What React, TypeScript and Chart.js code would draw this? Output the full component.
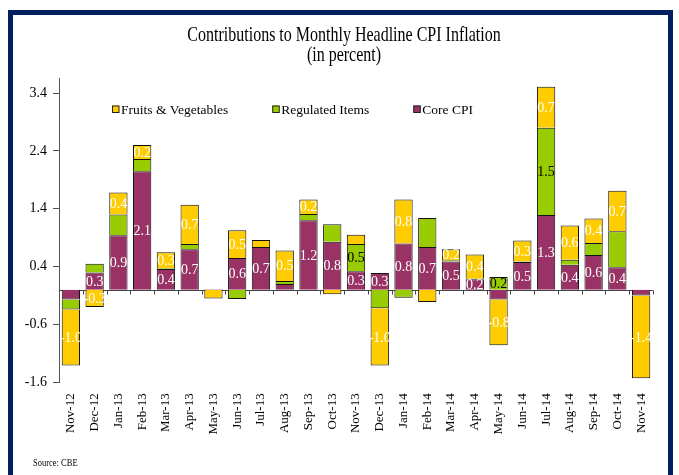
import React, { useEffect, useRef } from 'react';
import { Chart, registerables } from 'chart.js';

Chart.register(...registerables);

// ---------- data ----------
const categories = [
  'Nov-12', 'Dec-12', 'Jan-13', 'Feb-13', 'Mar-13', 'Apr-13', 'May-13', 'Jun-13', 'Jul-13',
  'Aug-13', 'Sep-13', 'Oct-13', 'Nov-13', 'Dec-13', 'Jan-14', 'Feb-14', 'Mar-14', 'Apr-14',
  'May-14', 'Jun-14', 'Jul-14', 'Aug-14', 'Sep-14', 'Oct-14', 'Nov-14',
];

const coreCPI = [
  -0.17, 0.30, 0.94, 2.05, 0.36, 0.70, 0.01, 0.55, 0.74,
  0.10, 1.20, 0.83, 0.32, 0.29, 0.80, 0.74, 0.49, 0.18,
  -0.17, 0.48, 1.29, 0.43, 0.60, 0.39, -0.10,
];

const regulatedItems = [
  -0.17, 0.15, 0.36, 0.21, 0.01, 0.09, 0.0, -0.16, 0.0,
  0.05, 0.11, 0.30, 0.47, -0.32, -0.14, 0.50, 0.02, 0.01,
  0.22, 0.01, 1.51, 0.09, 0.21, 0.62, 0.0,
];

const fruitsVegetables = [
  -0.97, -0.30, 0.38, 0.24, 0.28, 0.68, -0.15, 0.48, 0.12,
  0.53, 0.25, -0.08, 0.16, -0.99, 0.76, -0.21, 0.19, 0.42,
  -0.79, 0.36, 0.71, 0.59, 0.42, 0.70, -1.43,
];

// value labels shown on the bars (empty = no label)
const coreLabels = [
  '', '0.3', '0.9', '2.1', '0.4', '0.7', '', '0.6', '0.7',
  '', '1.2', '0.8', '0.3', '0.3', '0.8', '0.7', '0.5', '0.2',
  '', '0.5', '1.3', '0.4', '0.6', '0.4', '',
];
const regulatedLabels = [
  '', '', '', '', '', '', '', '', '',
  '', '', '', '0.5', '', '', '', '', '',
  '0.2', '', '1.5', '', '', '', '',
];
const fruitsLabels = [
  '-1.0', '-0.3', '0.4', '0.2', '0.3', '0.7', '', '0.5', '',
  '0.5', '0.2', '', '', '-1.0', '0.8', '', '0.2', '0.4',
  '-0.8', '0.3', '0.7', '0.6', '0.4', '0.7', '-1.4',
];

const yTickValues = [-1.6, -0.6, 0.4, 1.4, 2.4, 3.4];
const titleLines = ['Contributions to Monthly Headline CPI Inflation', '(in percent)'];
const sourceNote = 'Source: CBE';
const seriesNames = { fruits: 'Fruits & Vegetables', regulated: 'Regulated Items', core: 'Core CPI' };

// ---------- styles ----------
const FONT = "'Liberation Serif', 'Times New Roman', serif";
const COLORS = { core: '#993366', regulated: '#99CC00', fruits: '#FFCC00' };

const decorPlugin = {
  id: 'decor',
  beforeDatasetsDraw(chart: any) {
    const { ctx, chartArea, scales } = chart;
    const xs = scales.x;
    const y0 = Math.round(scales.y.getPixelForValue(0)) + 0.5;
    const step = xs.getPixelForValue(1) - xs.getPixelForValue(0);
    const first = xs.getPixelForValue(0) - step / 2;
    ctx.save();
    ctx.strokeStyle = '#444';
    ctx.lineWidth = 1;
    ctx.beginPath();
    ctx.moveTo(chartArea.left, y0);
    ctx.lineTo(chartArea.right, y0);
    for (let i = 1; i <= categories.length; i++) {
      const bx = Math.round(first + i * step) + 0.5;
      ctx.moveTo(bx, y0);
      ctx.lineTo(bx, y0 + 4);
    }
    ctx.stroke();
    ctx.restore();
  },
  afterDatasetsDraw(chart: any) {
    const { ctx } = chart;
    const labelSets = [coreLabels, regulatedLabels, fruitsLabels];
    const colors = ['#ffffff', '#000000', '#ffffff'];
    ctx.save();
    ctx.font = `14px ${FONT}`;
    ctx.textAlign = 'center';
    ctx.textBaseline = 'middle';
    chart.data.datasets.forEach((_ds: any, di: number) => {
      const meta = chart.getDatasetMeta(di);
      ctx.fillStyle = colors[di];
      meta.data.forEach((el: any, i: number) => {
        const t = labelSets[di][i];
        if (!t) return;
        const { x, y, base } = el.getProps(['x', 'y', 'base'], true);
        ctx.fillText(t, x, (y + base) / 2 + 1);
      });
    });
    ctx.restore();
  },
  afterDraw(chart: any) {
    const { ctx, chartArea } = chart;
    ctx.save();
    // title (slightly tall glyphs like the reference)
    ctx.fillStyle = '#000';
    ctx.font = `16px ${FONT}`;
    ctx.textAlign = 'center';
    ctx.textBaseline = 'alphabetic';
    const cx = 344;
    const baselines = [41, 61];
    titleLines.forEach((line, i) => {
      ctx.save();
      ctx.translate(cx, baselines[i]);
      ctx.scale(1, 1.29);
      ctx.fillText(line, 0, 0);
      ctx.restore();
    });

    // legend
    ctx.font = `13.5px ${FONT}`;
    ctx.textAlign = 'left';
    const items = [
      { name: seriesNames.fruits, color: COLORS.fruits },
      { name: seriesNames.regulated, color: COLORS.regulated },
      { name: seriesNames.core, color: COLORS.core },
    ];
    let lx = chartArea.left + 53;
    const boxTop = 105.5;
    const textBase = 114;
    items.forEach((it) => {
      ctx.fillStyle = it.color;
      ctx.fillRect(lx, boxTop, 7, 7);
      ctx.strokeStyle = '#222';
      ctx.lineWidth = 1;
      ctx.strokeRect(lx + 0.5, boxTop + 0.5, 6.5, 6.5);
      ctx.fillStyle = '#000';
      ctx.fillText(it.name, lx + 9, textBase);
      lx += 9 + ctx.measureText(it.name).width + 44;
    });

    // source note
    ctx.font = `8.5px ${FONT}`;
    ctx.save();
    ctx.translate(33, 466);
    ctx.scale(1, 1.2);
    ctx.fillText(sourceNote, 0, 0);
    ctx.restore();
    ctx.restore();
  },
};

export default function App() {
  const ref = useRef<HTMLCanvasElement>(null);

  useEffect(() => {
    if (!ref.current) return;
    const common = { borderColor: '#111', borderWidth: 1, barPercentage: 0.77, categoryPercentage: 1 };
    const chart = new Chart(ref.current, {
      type: 'bar',
      data: {
        labels: categories,
        datasets: [
          { label: seriesNames.core, data: coreCPI, backgroundColor: COLORS.core, ...common },
          { label: seriesNames.regulated, data: regulatedItems, backgroundColor: COLORS.regulated, ...common },
          { label: seriesNames.fruits, data: fruitsVegetables, backgroundColor: COLORS.fruits, ...common },
        ],
      },
      options: {
        responsive: false,
        animation: false,
        devicePixelRatio: 1,
        layout: { padding: { top: 78, right: 26, left: 0, bottom: 0 } },
        plugins: {
          legend: { display: false },
          title: { display: false },
          tooltip: { enabled: false },
        },
        scales: {
          x: {
            stacked: true,
            ticks: {
              autoSkip: false,
              maxRotation: 90,
              minRotation: 90,
              font: { family: FONT, size: 13 },
              color: '#000',
              padding: 11,
            },
            grid: { display: false, drawTicks: false },
            border: { display: false },
            afterFit: (s: any) => {
              s.height = 92.7;
            },
          },
          y: {
            stacked: true,
            min: -1.6,
            max: 3.66,
            afterBuildTicks: (s: any) => {
              s.ticks = yTickValues.map((v) => ({ value: v }));
            },
            ticks: {
              callback: (v: any) => Number(v).toFixed(1),
              font: { family: FONT, size: 14 },
              color: '#000',
              padding: 6,
            },
            grid: { drawOnChartArea: false, drawTicks: true, tickLength: 6, color: '#555' },
            border: { display: true, color: '#555' },
            afterFit: (s: any) => {
              s.width = 59;
            },
          },
        },
      },
      plugins: [decorPlugin],
    } as any);
    return () => chart.destroy();
  }, []);

  return (
    <div
      style={{
        position: 'fixed',
        left: 0,
        top: 0,
        width: 679,
        height: 475,
        overflow: 'hidden',
        background: '#fff',
      }}
    >
      <div
        style={{
          position: 'absolute',
          left: 8,
          top: 10,
          width: 655,
          height: 500,
          border: '5px solid #00205f',
        }}
      />
      <canvas
        ref={ref}
        width={679}
        height={475}
        style={{ position: 'absolute', left: 0, top: 0, width: 679, height: 475 }}
      />
    </div>
  );
}
